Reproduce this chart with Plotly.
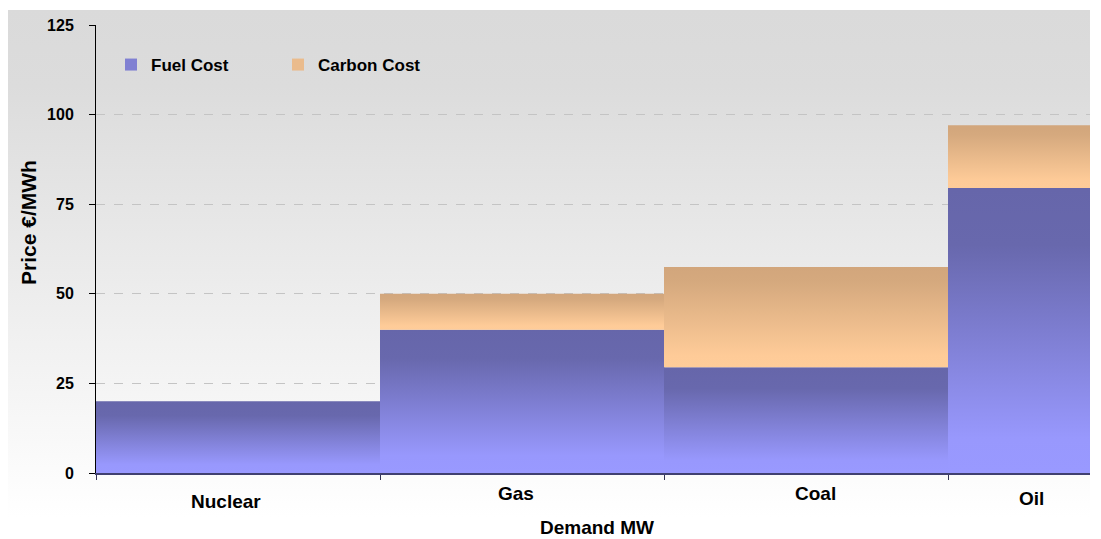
import base64
import plotly.graph_objects as go

# ---- data ----
categories = ["Nuclear", "Gas", "Coal", "Oil"]
capacity_mw = [2, 2, 2, 1]            # relative demand width of each technology
fuel_cost = [20, 40, 29.5, 79.5]      # €/MWh
carbon_cost = [0, 10, 28, 17.5]       # €/MWh
y_ticks = [0, 25, 50, 75, 100, 125]

# ---- styles ----
FONT = "Liberation Sans, Arial, sans-serif"
fuel_scale = [[0, "#9999ff"], [0.12, "#9898fd"], [0.8, "#6868ad"], [1, "#6666aa"]]
carbon_scale = [[0, "#ffcc99"], [0.12, "#fecb98"], [0.85, "#d5a97e"], [1, "#d2a67c"]]
SEAM = 0.004  # tiny overlap so adjacent fills leave no anti-aliased gap

fig = go.Figure()

# bar edges derived from the capacity widths
edges = [0]
for w in capacity_mw:
    edges.append(edges[-1] + w)

for i, cat in enumerate(categories):
    x0 = edges[i]
    x1 = edges[i + 1] + (SEAM if i < len(categories) - 1 else 0)
    f = fuel_cost[i]
    c = carbon_cost[i]
    fig.add_trace(go.Scatter(
        x=[x0, x1, x1, x0, x0], y=[0, 0, f, f, 0],
        mode="lines", line=dict(width=0), fill="toself",
        fillgradient=dict(type="vertical", colorscale=fuel_scale),
        name="Fuel Cost", showlegend=False, hoverinfo="text",
        text=f"{cat}: fuel {f} €/MWh",
    ))
    if c > 0:
        fig.add_trace(go.Scatter(
            x=[x0, x1, x1, x0, x0], y=[f, f, f + c, f + c, f],
            mode="lines", line=dict(width=0), fill="toself",
            fillgradient=dict(type="vertical", colorscale=carbon_scale),
            name="Carbon Cost", showlegend=False, hoverinfo="text",
            text=f"{cat}: carbon {c} €/MWh",
        ))

# legend entries
fig.add_trace(go.Bar(x=[None], y=[None], name="Fuel Cost",
                     marker=dict(color="#8080d2", line=dict(width=0)), legend="legend"))
fig.add_trace(go.Bar(x=[None], y=[None], name="Carbon Cost",
                     marker=dict(color="#eabb8c", line=dict(width=0)), legend="legend2"))

# background gradient of the chart area
svg = ('<svg xmlns="http://www.w3.org/2000/svg" width="100" height="100" preserveAspectRatio="none">'
       '<defs><linearGradient id="g" x1="0" y1="0" x2="0" y2="1">'
       '<stop offset="0" stop-color="#dadada"/><stop offset="0.15" stop-color="#dcdcdc"/>'
       '<stop offset="1" stop-color="#ffffff"/></linearGradient></defs>'
       '<rect width="100" height="100" fill="url(#g)"/></svg>')
src = "data:image/svg+xml;base64," + base64.b64encode(svg.encode()).decode()

# plot width of 994 px gives exactly 142 px per capacity unit (crisp bar edges)
L, R, T, B = 96, 11, 25, 66
W, H = 1101, 539
pw, ph = W - L - R, H - T - B

def px_x(px):
    return (px - L) / pw

def px_y(py):
    return (H - B - py) / ph

fig.add_layout_image(dict(
    source=src, xref="paper", yref="paper",
    x=px_x(8), y=px_y(10), sizex=(1090 - 8) / pw, sizey=(517 - 10) / ph,
    xanchor="left", yanchor="top", sizing="stretch", layer="below",
))

# category labels (staggered like the original)
label_pos = {"Nuclear": (-12, 501), "Gas": (-6, 493), "Coal": (9, 493), "Oil": (12, 498)}
for i, cat in enumerate(categories):
    dx, py = label_pos[cat]
    fig.add_annotation(
        x=(edges[i] + edges[i + 1]) / 2, xref="x", y=px_y(py), yref="paper",
        xshift=dx, text=f"<b>{cat}</b>", showarrow=False,
        font=dict(family=FONT, size=19, color="black"),
        xanchor="center", yanchor="middle",
    )

fig.add_annotation(x=px_x(597), y=px_y(527), xref="paper", yref="paper",
                   text="<b>Demand MW</b>", showarrow=False, borderpad=0,
                   xanchor="center", yanchor="middle",
                   font=dict(family=FONT, size=19, color="black"))
fig.add_annotation(x=px_x(28), y=px_y(223), xref="paper", yref="paper",
                   text="<b>Price €/MWh</b>", showarrow=False, textangle=-90,
                   xanchor="center", yanchor="middle",
                   font=dict(family=FONT, size=21, color="black"))

legend_common = dict(orientation="h", bgcolor="rgba(0,0,0,0)", borderwidth=0,
                     yanchor="middle", xanchor="left",
                     font=dict(family=FONT, size=17, color="black", weight="bold"))
fig.update_layout(
    width=W, height=H,
    margin=dict(l=L, r=R, t=T, b=B),
    paper_bgcolor="white", plot_bgcolor="rgba(0,0,0,0)",
    showlegend=True,
    legend=dict(x=px_x(111), y=px_y(65), **legend_common),
    legend2=dict(x=px_x(278), y=px_y(65), **legend_common),
    xaxis=dict(
        range=[0, edges[-1]], tickmode="array", tickvals=edges[:-1], ticktext=[""] * (len(edges) - 1),
        ticks="outside", ticklen=5, tickcolor="#333355", showgrid=False, zeroline=False,
        showline=True, linecolor="#404070", linewidth=2, fixedrange=True,
    ),
    yaxis=dict(
        range=[0, 125], tickmode="array", tickvals=y_ticks,
        ticktext=[f"<b>{v}</b>" for v in y_ticks],
        ticks="outside", ticklen=6, tickcolor="black", ticklabelstandoff=12,
        tickfont=dict(family=FONT, size=16, color="black"),
        showgrid=True, gridcolor="#c4c4c4", griddash="dash", gridwidth=1,
        zeroline=False, showline=True, linecolor="black", linewidth=1, fixedrange=True,
    ),
    hovermode="closest",
)

fig.write_html("out.html")
